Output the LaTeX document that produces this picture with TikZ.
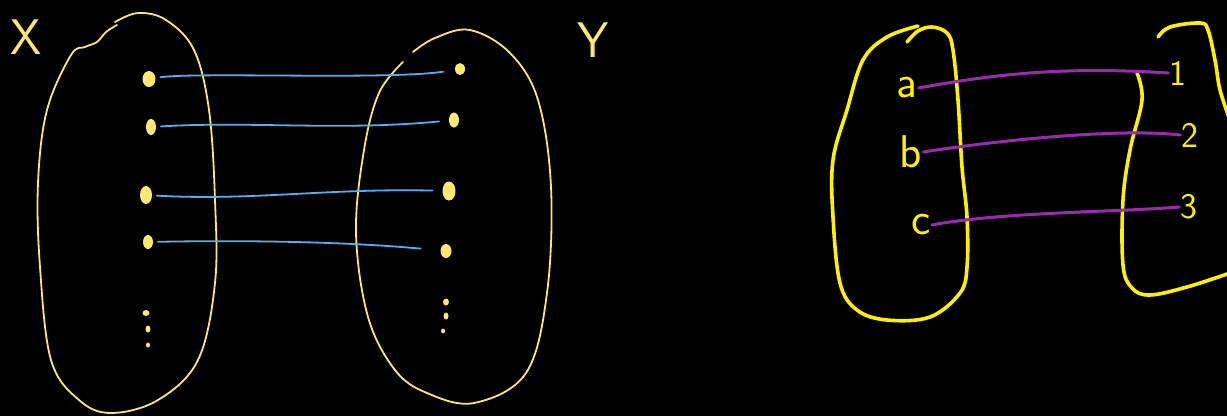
\documentclass[tikz,border=0pt]{standalone}
\usetikzlibrary{shapes.geometric}
\definecolor{ylw}{RGB}{253,231,110}
\definecolor{ylwb}{RGB}{255,240,0}
\definecolor{blu}{RGB}{85,174,239}
\definecolor{pur}{RGB}{155,42,176}
\tikzset{
  setline/.style={draw=ylw, line width=1.8pt, line cap=round, line join=round},
  setthick/.style={draw=ylwb, line width=3.6pt, line cap=round, line join=round},
  dot/.style={ellipse, fill=ylw, inner sep=0pt, outer sep=5pt},
  tiny/.style={ellipse, fill=ylw, inner sep=0pt},
  mapline/.style={draw=blu, line width=1.8pt, line cap=round},
  pline/.style={draw=pur, line width=3pt, line cap=round},
  lbl/.style={text=ylwb, font=\sffamily\fontsize{46}{46}\selectfont, inner sep=1pt},
  num/.style={text=ylwb, font=\sffamily\fontsize{36}{36}\selectfont, inner sep=1pt},
  setname/.style={text=ylw, font=\sffamily\fontsize{50}{50}\selectfont, inner sep=0pt}
}
\begin{document}
\begin{tikzpicture}[x=1pt,y=-1pt]
\fill[black] (0,0) rectangle (1227,416);
\useasboundingbox (0,0) rectangle (1227,416);

% set names
\node[setname] (X) at (26,37) {X};
\node[setname] (Y) at (593,40) {Y};

% left ellipse
\draw[setline] plot[smooth, tension=0.6] coordinates {(115,22) (138,13) (166,20) (194,50) (209,110) (215,200) (215,283) (198,360) (158,400) (111,413) (79,400) (51,360) (40,267) (38,183) (47,110) (71,55) (85,47) (97,42) (106,32) (117,25)};
% right ellipse
\draw[setline] plot[smooth, tension=0.6] coordinates {(413,52) (435,38) (470,30) (510,53) (538,100) (551,187) (547,293) (526,373) (474,403) (427,393) (395,370) (368,317) (356,233) (364,150) (379,93) (403,62)};

% dots in X
\node[dot, minimum width=13pt, minimum height=16pt] (l1) at (149,79) {};
\node[dot, minimum width=10pt, minimum height=16pt] (l2) at (151,127) {};
\node[dot, minimum width=12pt, minimum height=18pt] (l3) at (146,195) {};
\node[dot, minimum width=10pt, minimum height=14pt] (l4) at (148,242) {};
\node[tiny, minimum width=7pt, minimum height=6pt] (lv1) at (146,313) {};
\node[tiny, minimum width=5pt, minimum height=7pt] (lv2) at (148,329) {};
\node[tiny, minimum width=4pt, minimum height=5pt] (lv3) at (148,345) {};

% dots in Y
\node[dot, minimum width=10pt, minimum height=12pt, outer sep=12pt] (r1) at (460,69) {};
\node[dot, minimum width=10pt, minimum height=15pt, outer sep=10pt] (r2) at (454,120) {};
\node[dot, minimum width=13pt, minimum height=19pt, outer sep=10pt] (r3) at (449,191) {};
\node[dot, minimum width=11pt, minimum height=14pt, outer sep=20pt] (r4) at (446,251) {};
\node[tiny, minimum width=6pt, minimum height=7pt] (rv1) at (446,302) {};
\node[tiny, minimum width=5pt, minimum height=7pt] (rv2) at (446,316) {};
\node[tiny, minimum width=4pt, minimum height=5pt] (rv3) at (443,331) {};

% blue maps
\draw[mapline] (l1) .. controls (195,72) and (390,80) .. (r1);
\draw[mapline] (l2) .. controls (250,121) and (340,131) .. (r2);
\draw[mapline] (l3) .. controls (250,201) and (330,188) .. (r3);
\draw[mapline] (l4) .. controls (250,240) and (350,242) .. (r4);

% right diagram sets
\draw[setthick] plot[smooth, tension=0.6] coordinates {(907,42) (918,31) (932,27) (947,33) (953,50) (958,100) (962,167) (967,217) (967,267) (960,293) (930,317) (887,320) (857,310) (840,283) (833,217) (833,160) (847,110) (863,60) (887,37) (918,26)};
\draw[setthick] plot[smooth, tension=0.6] coordinates {(1137,73) (1142,100) (1130,150) (1123,200) (1123,265) (1132,288) (1150,295) (1187,287) (1230,273)};
\draw[setthick] plot[smooth, tension=0.6] coordinates {(1158,37) (1170,27) (1200,23) (1208,30) (1215,60) (1220,90) (1230,120)};

% labels
\node[lbl] (a) at (907,88) {a};
\node[lbl] (b) at (911,152) {b};
\node[lbl] (c) at (921,225) {c};
\node[num] (one) at (1178,73) {1};
\node[num] (two) at (1190,135) {2};
\node[num] (three) at (1189,207) {3};

% purple maps
\draw[pline] (a.east) .. controls (990,75) and (1060,66) .. (one.west);
\draw[pline] (b.east) .. controls (1000,140) and (1120,128) .. (two.west);
\draw[pline] (c.east) .. controls (1000,212) and (1120,212) .. (three.west);
\end{tikzpicture}
\end{document}
